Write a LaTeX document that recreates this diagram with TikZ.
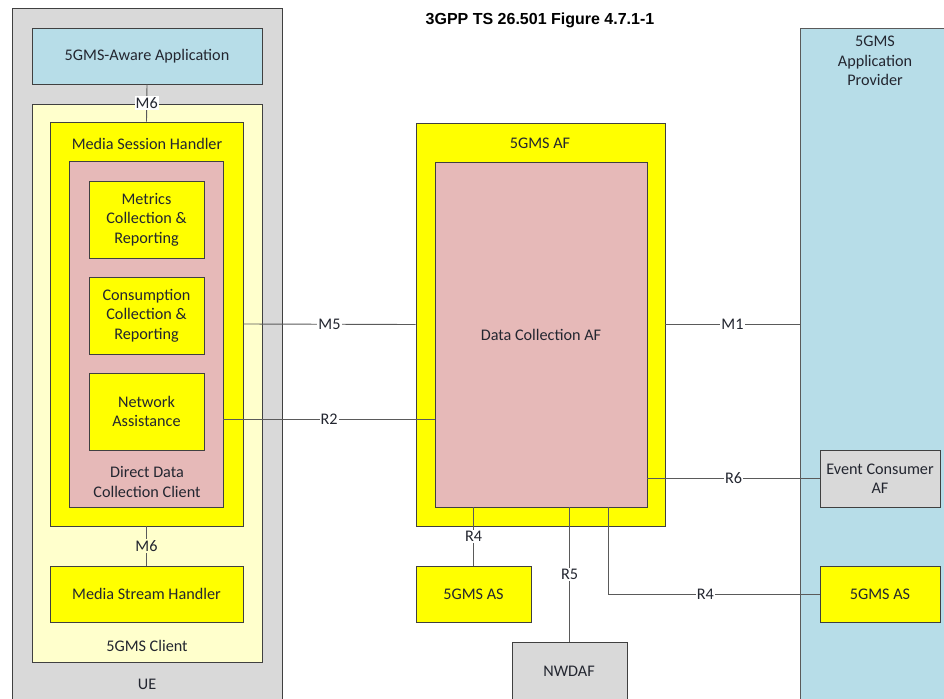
\documentclass[tikz,border=0pt]{standalone}
\usepackage{fontspec}
\setmainfont{Carlito}
\newfontfamily\titlefont{Liberation Sans}
\usetikzlibrary{positioning,fit,calc}
\definecolor{uegrey}{RGB}{217,217,217}
\definecolor{appblue}{RGB}{183,221,232}
\definecolor{clientyellow}{RGB}{255,255,204}
\definecolor{funcyellow}{RGB}{255,255,0}
\definecolor{collpink}{RGB}{230,185,184}
\definecolor{edgegrey}{RGB}{64,64,64}
\definecolor{linkgrey}{RGB}{90,90,90}
\definecolor{txt}{RGB}{35,38,48}

\begin{document}
\begin{tikzpicture}[x=1pt,y=-1pt,
  every node/.style={font=\fontsize{16.2}{19.5}\selectfont,text=txt},
  box/.style={draw=edgegrey,line width=0.9pt,inner sep=0pt},
  link/.style={draw=linkgrey,line width=0.9pt},
  lbl/.style={fill=white,inner sep=1pt},
  caption/.style={align=center,inner sep=0pt}]
  \useasboundingbox (0,0) rectangle (944,698);
  \clip (0,0) rectangle (944,698);
  \fill[white] (0,0) rectangle (944,698);
  \node[font=\titlefont\bfseries\fontsize{16}{19}\selectfont,text=black] (title) at (540,20) {3GPP TS 26.501 Figure 4.7.1-1};
  % UE side
  \node[box,fill=uegrey,fit={(12,8)(282,720)}] (ue) {};
  \node[box,fill=appblue,fit={(32,28)(262,84)}] (app) {};
  \node[box,fill=clientyellow,fit={(32,104)(262,662)}] (client) {};
  \node[box,fill=funcyellow,fit={(50,122)(243,526)}] (msh) {};
  \node[box,fill=collpink,fit={(69,161)(223,507)}] (ddcc) {};
  \node[box,fill=funcyellow,fit={(89,181)(204,258)}] (metrics) {};
  \node[box,fill=funcyellow,fit={(89,277)(204,354)}] (consumption) {};
  \node[box,fill=funcyellow,fit={(89,373)(204,450)}] (netassist) {};
  \node[box,fill=funcyellow,fit={(50,566)(243,622)}] (mstream) {};
  \node[caption] (appname) at (app.center) {5GMS-Aware Application};
  \node[caption] (metricsname) at (metrics.center) {Metrics\\Collection \&\\Reporting};
  \node[caption] (consumptionname) at (consumption.center) {Consumption\\Collection \&\\Reporting};
  \node[caption] (netassistname) at (netassist.center) {Network\\Assistance};
  \node[caption] (mstreamname) at (mstream.center) {Media Stream Handler};
  \node[caption] (uename) at (147,684) {UE};
  \node[caption] (clientname) at (147,646) {5GMS Client};
  \node[caption] (mshname) at (147,144) {Media Session Handler};
  \node[caption] (ddccname) at (147,482) {Direct Data\\Collection Client};
  % network side
  \node[box,fill=funcyellow,fit={(416,123)(665,526)}] (af) {};
  \node[box,fill=collpink,fit={(435,162)(647,507)}] (dcaf) {};
  \node[box,fill=funcyellow,fit={(416,566)(531,622)}] (asmid) {};
  \node[box,fill=uegrey,fit={(512,642)(627,720)}] (nwdaf) {};
  \node[caption] (afname) at (540,143) {5GMS AF};
  \node[caption] (dcafname) at (dcaf.center) {Data Collection AF};
  \node[caption] (asmidname) at (asmid.center) {5GMS AS};
  \node[caption] (nwdafname) at (569,671) {NWDAF};
  % provider side
  \node[box,draw=linkgrey,fill=appblue,fit={(800,28)(960,720)}] (provider) {};
  \node[box,fill=uegrey,fit={(820,450)(940,507)}] (eventaf) {};
  \node[box,fill=funcyellow,fit={(820,566)(940,622)}] (asright) {};
  \node[caption] (providername) at (875,61) {5GMS\\Application\\Provider};
  \node[caption] (eventafname) at (eventaf.center) {Event Consumer\\AF};
  \node[caption] (asrightname) at (asright.center) {5GMS AS};
  % reference points
  \coordinate (r2y) at (0,419);
  \coordinate (r4x) at (608,0);
  \draw[link] (app.south) -- (msh.north) node[midway,lbl] {M6};
  \draw[link] (msh.south) -- (mstream.north) node[midway,lbl,fill=clientyellow] {M6};
  \draw[link] (msh.east) -- (af.west) node[midway,lbl] {M5};
  \draw[link] (ddcc.east |- r2y) -- (dcaf.west |- r2y) node[midway,lbl] {R2};
  \draw[link] (af.east) -- (provider.west |- af.east) node[midway,lbl] {M1};
  \draw[link] (dcaf.east |- eventaf.west) -- (eventaf.west) node[pos=0.5,lbl] {R6};
  \draw[link] (dcaf.south -| asmid.north) -- (asmid.north) node[midway,lbl] {R4};
  \draw[link] (dcaf.south -| nwdaf.north) -- (nwdaf.north) node[midway,lbl] {R5};
  \draw[link] (dcaf.south -| r4x) |- (asright.west) node[pos=0.73,lbl] {R4};
\end{tikzpicture}
\end{document}
